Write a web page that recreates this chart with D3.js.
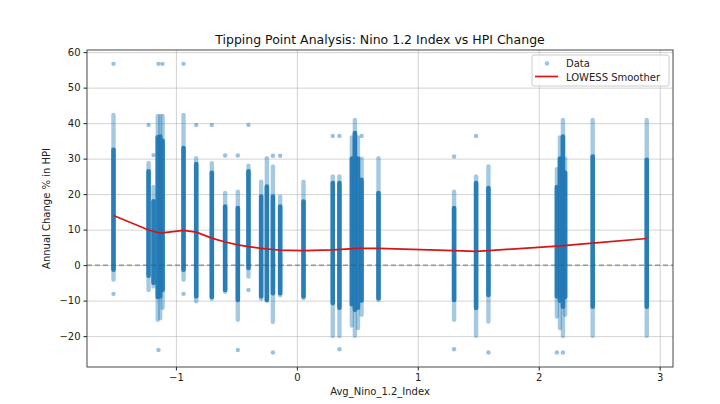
<!DOCTYPE html>
<html>
<head>
<meta charset="utf-8">
<script src="https://cdn.jsdelivr.net/npm/d3@7"></script>
<style>
	body { margin: 0; background: #fff; }
	svg { font-family: 'DejaVu Sans', sans-serif; }
	.grid line { stroke: #b0b0b0; stroke-opacity: 0.7; stroke-width: 0.8; }
</style>
</head>
<body>
<div id="chart"></div>
<script>
/*
 * Columns of points: each Nino index value has a dense run of HPI changes
 * (denseLo..denseHi), a thinner fringe (sparseLo..sparseHi) and some outliers.
 */
var colX      = [-1.516, -1.226, -1.185, -1.15, -1.13, -1.11, -0.937, -0.832, -0.703, -0.593, -0.488, -0.400, -0.295, -0.248, -0.198, -0.138, 0.055, 0.297, 0.352, 0.455, 0.48, 0.505, 0.535, 0.675, 1.300, 1.482, 1.584, 2.15, 2.175, 2.2, 2.218, 2.446, 2.893];
var denseHi   = [32.5, 26.4, 18.0, 36.0, 36.2, 35.0, 33.0, 28.5, 26.0, 16.5, 16.1, 26.4, 19.3, 22.1, 19.3, 16.5, 17.9, 23.1, 23.1, 30.0, 37.2, 30.0, 24.0, 20.3, 16.1, 23.1, 21.7, 22.0, 30.0, 36.2, 26.0, 30.6, 29.7];
var denseLo   = [-1.3, -3.0, -5.0, -9.0, -8.8, -7.0, -1.3, -8.8, -9.0, -7.0, -9.8, -0.8, -8.8, -9.8, -7.9, -7.9, -8.8, -10.7, -12.0, -11.0, -12.6, -12.0, -10.0, -9.3, -9.8, -12.1, -8.4, -8.8, -10.0, -11.7, -9.0, -11.7, -11.7];
var sparseHi  = [42.3, 28.8, 22.0, 42.0, 42.0, 42.0, 42.3, 30.1, 28.7, 20.3, 20.7, 28.0, 23.5, 30.1, 27.8, 19.3, 23.5, 25.0, 25.0, 36.0, 40.9, 36.0, 30.0, 30.1, 20.7, 25.0, 27.8, 27.0, 36.0, 40.9, 30.0, 40.9, 40.9];
var sparseLo  = [-4.1, -7.0, -6.0, -15.4, -15.0, -12.0, -4.1, -10.2, -9.5, -7.5, -15.4, -3.2, -9.5, -10.0, -16.0, -8.5, -9.3, -20.0, -20.0, -17.0, -19.9, -17.7, -14.0, -9.8, -15.4, -19.9, -15.9, -14.5, -17.7, -20.0, -14.0, -19.9, -19.9];

var outlierX = [-1.516, -1.516, -1.226, -1.185, -1.144, -1.111, -1.144, -0.937, -0.937, -0.832, -0.703, -0.593, -0.488, -0.488, -0.400, -0.400, -0.198, -0.198, -0.138, 0.297, 0.352, 0.352, 0.535, 1.300, 1.300, 1.482, 1.584, 2.15, 2.2];
var outlierY = [56.7, -8.1, 39.5, 31.0, 56.7, 56.7, -23.9, 56.7, -8.1, 39.5, 39.5, 30.9, 30.9, -23.9, 39.5, -7.0, 30.8, -24.6, 30.8, 36.4, 36.4, -23.7, 36.4, 30.6, -23.7, 36.4, -24.6, -24.6, -24.6];

var lowessX = [-1.516, -1.226, -1.13, -0.937, -0.832, -0.703, -0.593, -0.488, -0.400, -0.295, -0.198, -0.138, 0.055, 0.297, 0.5, 0.675, 1.300, 1.482, 1.584, 2.18, 2.446, 2.893];
var lowessY = [14.0, 9.9, 9.0, 9.8, 9.3, 7.6, 6.5, 5.7, 5.2, 4.7, 4.4, 4.2, 4.1, 4.3, 4.7, 4.7, 4.1, 3.9, 4.1, 5.4, 6.2, 7.5];

var xTicks = [-1, 0, 1, 2, 3];
var yTicks = [-20, -10, 0, 10, 20, 30, 40, 50, 60];

var width = 720, height = 404;
var margin = {left: 87, right: 47, top: 50, bottom: 37};
var blue = '#1f77b4';

var svg = d3.select('#chart')
	.append('svg')
	.attr('width', width)
	.attr('height', height);

var x = d3.scaleLinear()
	.domain([-1.735, 3.11])
	.range([margin.left, width - margin.right]);

var y = d3.scaleLinear()
	.domain([-28.7, 60.6])
	.range([height - margin.bottom, margin.top]);

// grid
svg.append('g')
	.attr('class', 'grid')
	.attr('transform', 'translate(0,' + (height - margin.bottom) + ')')
	.call(d3.axisBottom(x).tickValues(xTicks).tickSize(-(height - margin.top - margin.bottom)).tickFormat(''))
	.call(function(g) { g.select('.domain').remove(); });

svg.append('g')
	.attr('class', 'grid')
	.attr('transform', 'translate(' + margin.left + ',0)')
	.call(d3.axisLeft(y).tickValues(yTicks).tickSize(-(width - margin.left - margin.right)).tickFormat(''))
	.call(function(g) { g.select('.domain').remove(); });

var plot = svg.append('g');

// thin fringe of each column
plot.selectAll('line.sparse')
	.data(colX)
	.enter().append('line')
	.attr('class', 'sparse')
	.attr('x1', function(d) { return x(d); })
	.attr('x2', function(d) { return x(d); })
	.attr('y1', function(d, i) { return y(sparseHi[i]); })
	.attr('y2', function(d, i) { return y(sparseLo[i]); })
	.style('stroke', blue)
	.style('stroke-opacity', 0.4)
	.style('stroke-width', 4.4)
	.style('stroke-linecap', 'round');

// dense part of each column
plot.selectAll('line.dense')
	.data(colX)
	.enter().append('line')
	.attr('class', 'dense')
	.attr('x1', function(d) { return x(d); })
	.attr('x2', function(d) { return x(d); })
	.attr('y1', function(d, i) { return y(denseHi[i]); })
	.attr('y2', function(d, i) { return y(denseLo[i]); })
	.style('stroke', blue)
	.style('stroke-opacity', 0.92)
	.style('stroke-width', 4.6)
	.style('stroke-linecap', 'round');

plot.selectAll('circle.out')
	.data(outlierX)
	.enter().append('circle')
	.attr('class', 'out')
	.attr('cx', function(d) { return x(d); })
	.attr('cy', function(d, i) { return y(outlierY[i]); })
	.attr('r', 2.2)
	.style('fill', blue)
	.style('fill-opacity', 0.45);

// zero reference
svg.append('line')
	.attr('x1', margin.left).attr('x2', width - margin.right)
	.attr('y1', y(0)).attr('y2', y(0))
	.style('stroke', '#555')
	.style('stroke-opacity', 0.8)
	.style('stroke-width', 1)
	.style('stroke-dasharray', '5,3');

var line = d3.line()
	.x(function(d) { return x(d); })
	.y(function(d, i) { return y(lowessY[i]); });

svg.append('path')
	.datum(lowessX)
	.attr('d', line)
	.style('fill', 'none')
	.style('stroke', '#d41616')
	.style('stroke-width', 1.7);

// axes
var xAxis = svg.append('g')
	.attr('transform', 'translate(0,' + (height - margin.bottom) + ')')
	.call(d3.axisBottom(x).tickValues(xTicks).tickSize(3.5).tickPadding(3)
		.tickFormat(function(d) { return d < 0 ? '\u2212' + Math.abs(d) : d; }));

var yAxis = svg.append('g')
	.attr('transform', 'translate(' + margin.left + ',0)')
	.call(d3.axisLeft(y).tickValues(yTicks).tickSize(3.5).tickPadding(3)
		.tickFormat(function(d) { return d < 0 ? '\u2212' + Math.abs(d) : d; }));

[xAxis, yAxis].forEach(function(g) {
	g.selectAll('text').style('font-size', '10px').style('fill', '#222').style('font-family', 'DejaVu Sans');
	g.selectAll('line').style('stroke', '#222');
	g.select('.domain').remove();
});

svg.append('rect')
	.attr('x', margin.left).attr('y', margin.top)
	.attr('width', width - margin.left - margin.right)
	.attr('height', height - margin.top - margin.bottom)
	.style('fill', 'none')
	.style('stroke', '#333')
	.style('stroke-width', 0.9);

svg.append('text')
	.attr('x', (margin.left + width - margin.right) / 2)
	.attr('y', 44)
	.attr('text-anchor', 'middle')
	.style('font-size', '12.5px')
	.style('fill', '#111')
	.text('Tipping Point Analysis: Nino 1.2 Index vs HPI Change');

svg.append('text')
	.attr('x', (margin.left + width - margin.right) / 2)
	.attr('y', 395)
	.attr('text-anchor', 'middle')
	.style('font-size', '10px')
	.style('fill', '#222')
	.text('Avg_Nino_1.2_Index');

svg.append('text')
	.attr('transform', 'translate(50,' + ((margin.top + height - margin.bottom) / 2) + ') rotate(-90)')
	.attr('text-anchor', 'middle')
	.style('font-size', '10px')
	.style('fill', '#222')
	.text('Annual Change % in HPI');

// legend
var legend = svg.append('g').attr('transform', 'translate(532,55)');

legend.append('rect')
	.attr('width', 137).attr('height', 31)
	.attr('rx', 2)
	.style('fill', '#fff')
	.style('fill-opacity', 0.8)
	.style('stroke', '#ccc');

legend.append('circle')
	.attr('cx', 15).attr('cy', 8.5)
	.attr('r', 2.2)
	.style('fill', blue)
	.style('fill-opacity', 0.45);

legend.append('line')
	.attr('x1', 3).attr('x2', 26)
	.attr('y1', 21.5).attr('y2', 21.5)
	.style('stroke', '#d41616')
	.style('stroke-width', 1.7);

legend.append('text')
	.attr('x', 34).attr('y', 12)
	.style('font-size', '10px')
	.style('fill', '#222')
	.text('Data');

legend.append('text')
	.attr('x', 34).attr('y', 25.5)
	.style('font-size', '10px')
	.style('fill', '#222')
	.text('LOWESS Smoother');
</script>
</body>
</html>
